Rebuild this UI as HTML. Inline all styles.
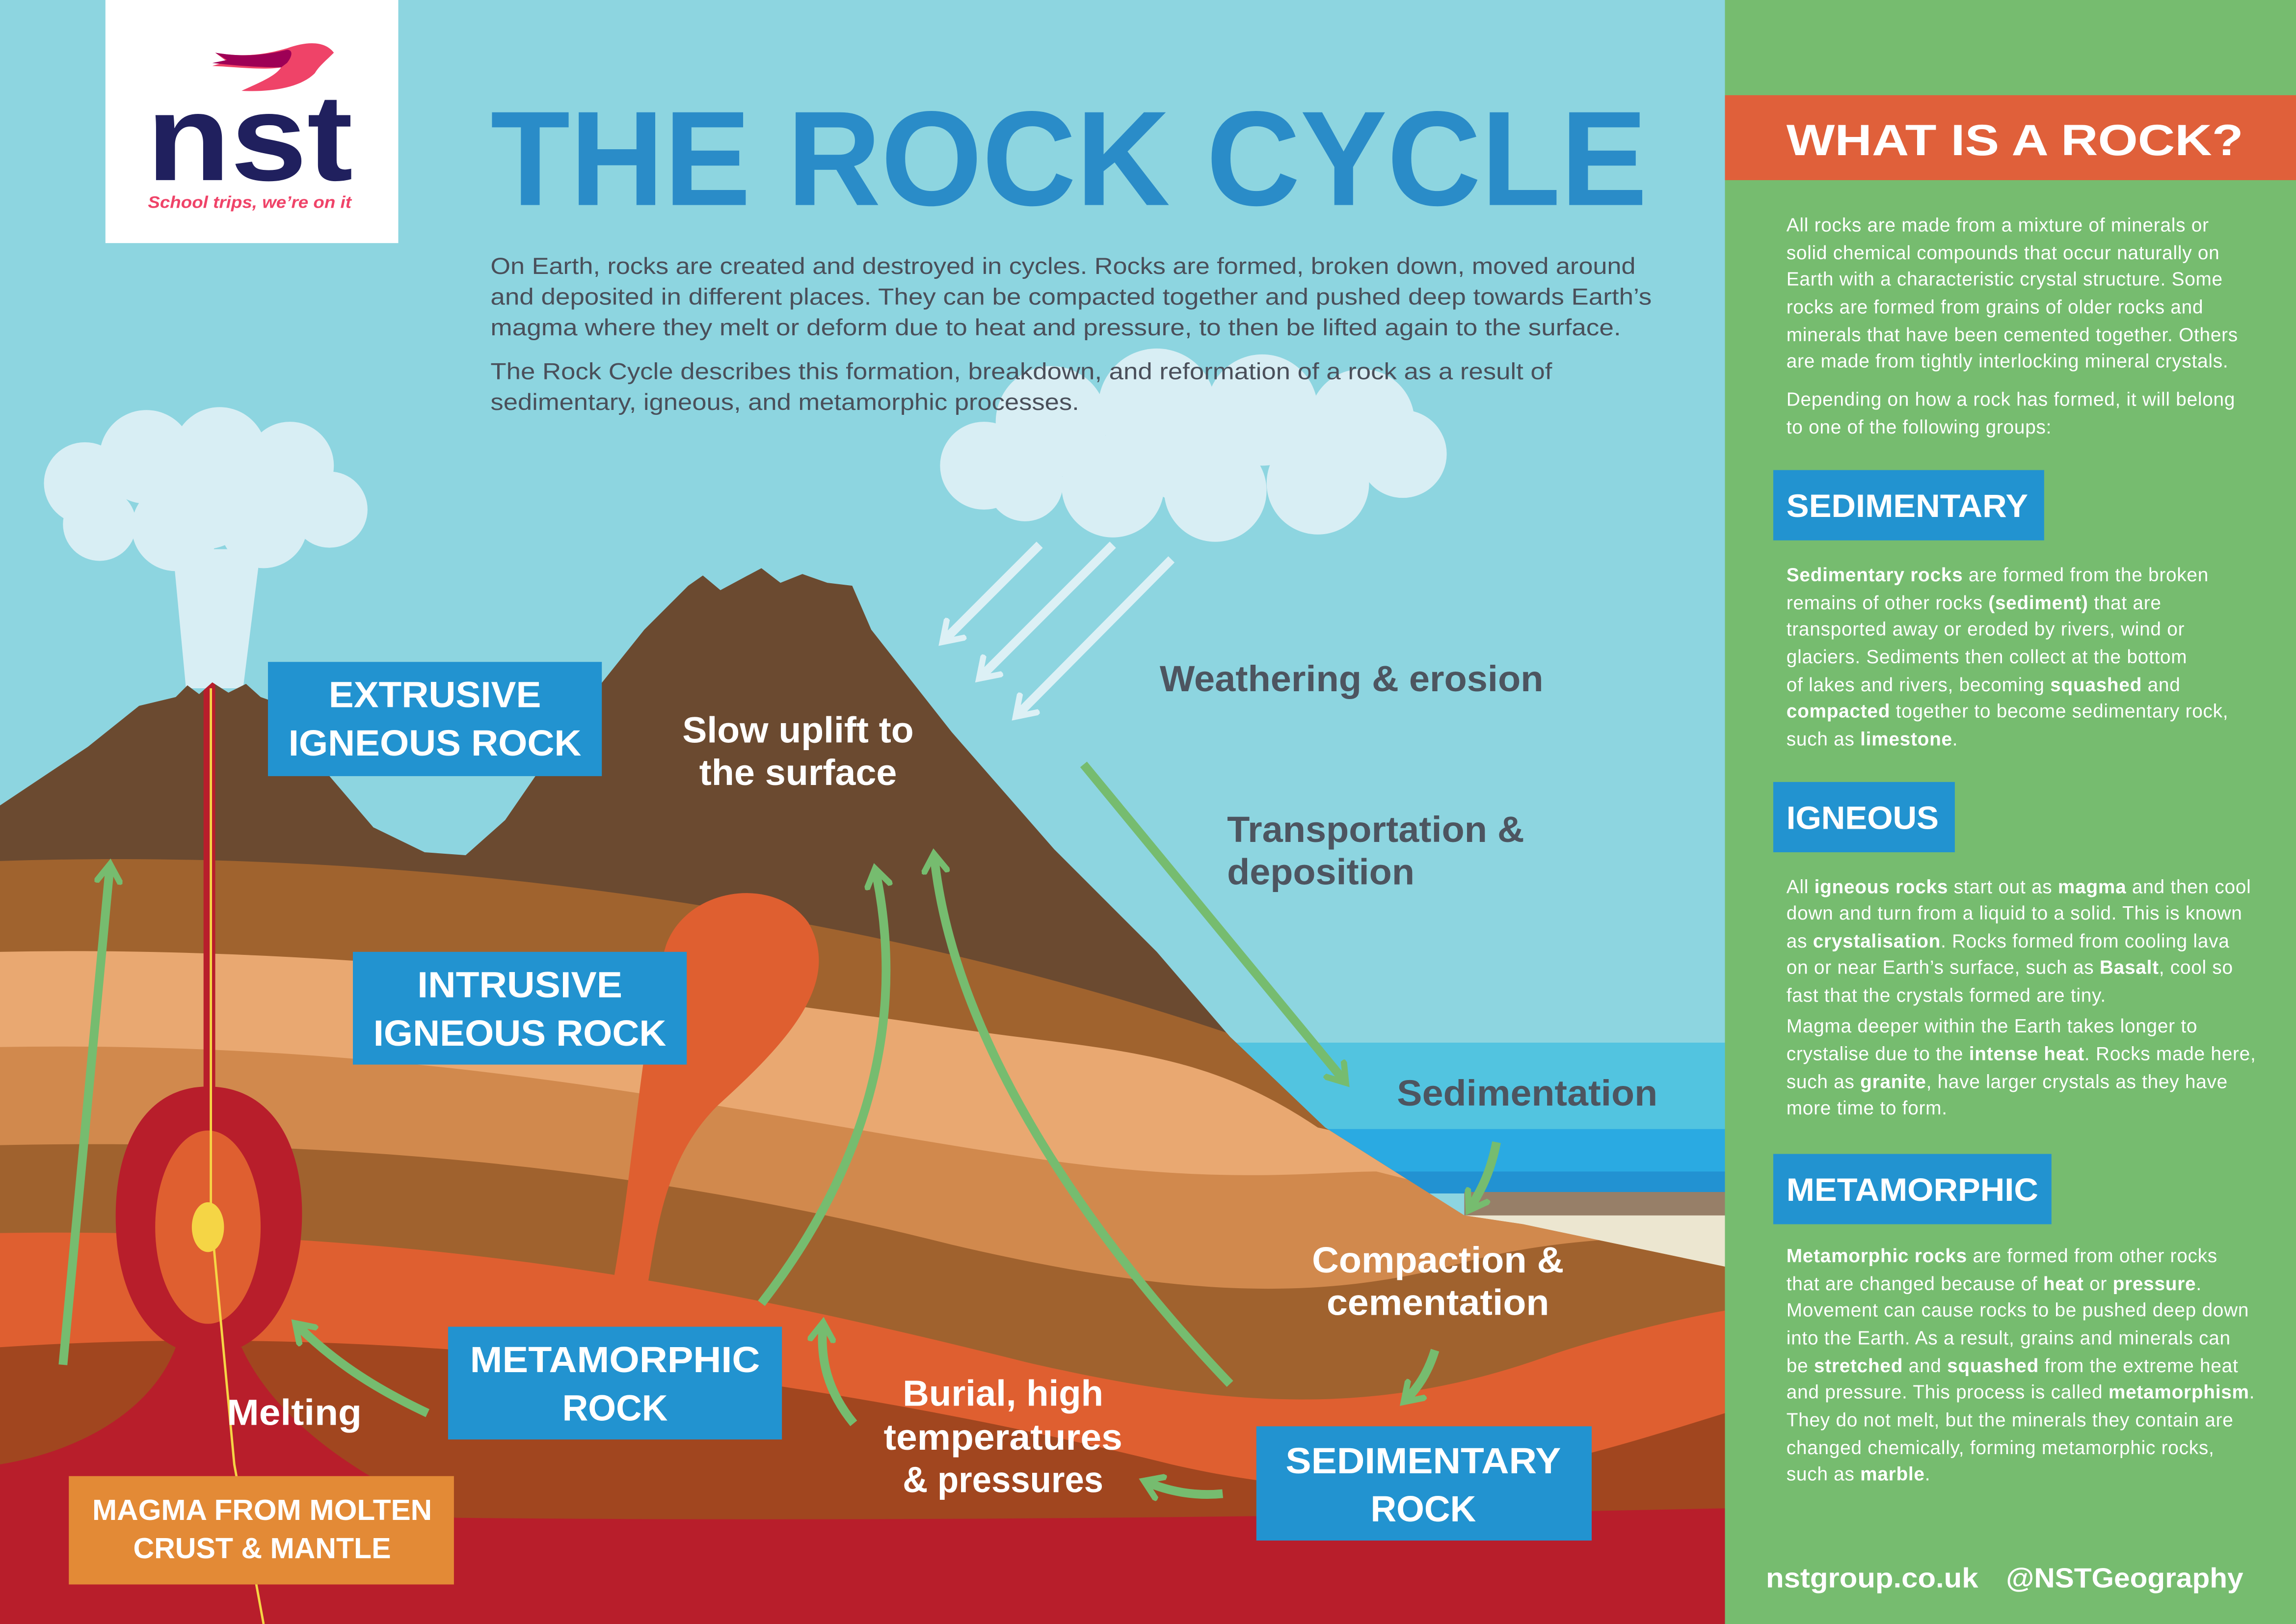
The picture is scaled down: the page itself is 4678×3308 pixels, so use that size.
<!DOCTYPE html>
<html><head><meta charset="utf-8">
<style>
html,body{margin:0;padding:0;width:4678px;height:3308px;overflow:hidden;background:#8dd5e0}
svg{display:block}
text{font-family:"Liberation Sans",sans-serif}
</style></head><body>
<svg width="4678" height="3308" viewBox="0 0 1568 1109" preserveAspectRatio="none" xmlns="http://www.w3.org/2000/svg">
<defs>
<clipPath id="ground">
<path d="M0,550 L60,510 L95,482 L120,476 L128,468 L136,474 L145,466 L156,473 L168,467 L178,476 L195,482 L225,530 L255,565 L290,582 L318,584 L345,560 L400,480 L440,430 L470,400 L480,393 L492,403 L505,396 L520,388 L533,398 L548,392 L565,398 L582,400 L595,430 L650,500 L720,580 L790,650 L840,708 L905,770 L1000,830 L1040,836 L1178,865 L1178,1109 L0,1109 Z"/>
</clipPath>
<marker id="ah" viewBox="0 0 10 10" refX="6" refY="5" markerWidth="3.2" markerHeight="3.2" orient="auto">
<path d="M1,1 L7,5 L1,9" fill="none" stroke="#76bc6f" stroke-width="2.2" stroke-linecap="square"/>
</marker>
<marker id="aw" viewBox="0 0 10 10" refX="6" refY="5" markerWidth="3.4" markerHeight="3.4" orient="auto">
<path d="M1,1 L7,5 L1,9" fill="none" stroke="#dcf0f5" stroke-width="2" stroke-linecap="square"/>
</marker>
</defs>
<rect x="0" y="0" width="1178" height="1109" fill="#8dd5e0"/>
<g fill="#d8eef4">
<path d="M118,375 L178,375 L166,470 L127,470 Z"/>
<circle cx="58" cy="330" r="28"/><circle cx="100" cy="312" r="32"/><circle cx="150" cy="310" r="32"/>
<circle cx="198" cy="318" r="30"/><circle cx="225" cy="348" r="26"/><circle cx="180" cy="358" r="30"/>
<circle cx="120" cy="360" r="30"/><circle cx="68" cy="358" r="25"/><circle cx="140" cy="340" r="35"/>
<circle cx="672" cy="318" r="30"/><circle cx="718" cy="288" r="38"/><circle cx="790" cy="278" r="40"/>
<circle cx="862" cy="280" r="38"/><circle cx="930" cy="288" r="36"/><circle cx="958" cy="310" r="30"/>
<circle cx="900" cy="330" r="35"/><circle cx="830" cy="335" r="35"/><circle cx="760" cy="332" r="35"/><circle cx="700" cy="330" r="26"/>
<circle cx="815" cy="305" r="40"/>
</g>
<g stroke="#dcf0f5" stroke-width="6" fill="none" marker-end="url(#aw)">
<path d="M710,372 L645,437"/><path d="M760,372 L670,462"/><path d="M800,382 L695,488"/>
</g>
<rect x="830" y="712" width="348" height="60" fill="#52c4e0"/>
<rect x="830" y="771" width="348" height="30" fill="#2aaae2"/>
<rect x="830" y="800" width="348" height="15" fill="#2292d2"/>
<rect x="1000" y="814" width="178" height="17" fill="#977f68"/>
<rect x="1000" y="830" width="178" height="40" fill="#ece6d0"/>
<g clip-path="url(#ground)">
<rect x="0" y="380" width="1178" height="729" fill="#6b4a30"/>
<path d="M0,588 C300,578 600,625 840,706 L1178,760 L1178,1109 L0,1109 Z" fill="#a0632e"/>
<path d="M0,650 C250,645 500,680 650,702 C760,718 820,716 900,770 L1178,830 L1178,1109 L0,1109 Z" fill="#e9a871"/>
<path d="M0,715 C300,710 500,760 700,790 C830,810 900,800 940,800 L1178,860 L1178,1109 L0,1109 Z" fill="#d1894d"/>
<path d="M0,782 C300,776 500,812 650,850 C800,885 900,890 1000,862 C1080,840 1178,845 1178,845 L1178,1109 L0,1109 Z" fill="#a0622e"/>
<path d="M0,842 C300,838 500,880 700,930 C850,965 950,965 1060,925 C1120,905 1178,895 1178,895 L1178,1109 L0,1109 Z" fill="#df5f30"/>
<path d="M0,920 C300,900 600,950 800,1000 C950,1035 1050,1005 1178,965 L1178,1109 L0,1109 Z" fill="#a1461f"/>
<path d="M0,1030 C300,1040 700,1040 1178,1030 L1178,1109 L0,1109 Z" fill="#b81e2b"/>
<path d="M416,890 C432,810 438,700 455,645 C470,605 530,598 552,630 C575,670 540,710 490,755 C450,795 448,850 440,890 Z" fill="#df5f30"/>
<path d="M0,1000 C60,990 105,960 120,920 L165,920 C185,965 240,1010 320,1040 L320,1109 L0,1109 Z" fill="#b81e2b"/>
<path d="M142,742 C190,742 212,790 205,850 C198,900 172,925 142,925 C112,925 86,900 80,850 C74,790 95,742 142,742 Z" fill="#b81e2b"/>
<ellipse cx="142" cy="838" rx="36" ry="66" fill="#df5f30"/>
<ellipse cx="142" cy="838" rx="11" ry="17" fill="#f5d545"/>
<rect x="139" y="466" width="8" height="290" fill="#b81e2b"/>
</g>
<path d="M144,470 L144,830 L160,1000 L180,1109" stroke="#f5d545" stroke-width="1.6" fill="none"/>
<g stroke="#76bc6f" stroke-width="6" fill="none" marker-end="url(#ah)" stroke-linecap="butt">
<path d="M43,932 L75,592"/>
<path d="M520,890 C590,800 620,700 598,595"/>
<path d="M840,945 C730,830 650,700 638,585"/>
<path d="M740,522 L918,738"/>
<path d="M1022,780 C1018,800 1012,812 1004,825"/>
<path d="M980,922 C975,938 968,948 960,956"/>
<path d="M835,1020 C815,1022 797,1018 783,1012"/>
<path d="M583,972 C565,950 560,928 562,905"/>
<path d="M292,965 C260,950 230,932 203,905"/>
</g>
<g font-weight="bold" fill="#fff" text-anchor="middle" font-size="25">
<rect x="183" y="452" width="228" height="78" fill="#2293d0"/>
<text x="297" y="483" textLength="145" lengthAdjust="spacingAndGlyphs">EXTRUSIVE</text>
<text x="297" y="516" textLength="200" lengthAdjust="spacingAndGlyphs">IGNEOUS ROCK</text>
<rect x="241" y="650" width="228" height="77" fill="#2293d0"/>
<text x="355" y="681" textLength="140" lengthAdjust="spacingAndGlyphs">INTRUSIVE</text>
<text x="355" y="714" textLength="200" lengthAdjust="spacingAndGlyphs">IGNEOUS ROCK</text>
<rect x="306" y="906" width="228" height="77" fill="#2293d0"/>
<text x="420" y="937" textLength="198" lengthAdjust="spacingAndGlyphs">METAMORPHIC</text>
<text x="420" y="970" textLength="72" lengthAdjust="spacingAndGlyphs">ROCK</text>
<rect x="858" y="974" width="229" height="78" fill="#2293d0"/>
<text x="972" y="1006" textLength="188" lengthAdjust="spacingAndGlyphs">SEDIMENTARY</text>
<text x="972" y="1039" textLength="72" lengthAdjust="spacingAndGlyphs">ROCK</text>
<rect x="47" y="1008" width="263" height="74" fill="#e38a36"/>
<text x="179" y="1038" font-size="20" textLength="232" lengthAdjust="spacingAndGlyphs">MAGMA FROM MOLTEN</text>
<text x="179" y="1064" font-size="20" textLength="176" lengthAdjust="spacingAndGlyphs">CRUST &amp; MANTLE</text>
</g>
<g font-size="25" font-weight="bold">
<g fill="#fff" text-anchor="middle">
<text x="545" y="507" textLength="158" lengthAdjust="spacingAndGlyphs">Slow uplift to</text>
<text x="545" y="536" textLength="135" lengthAdjust="spacingAndGlyphs">the surface</text>
<text x="982" y="869" textLength="172" lengthAdjust="spacingAndGlyphs">Compaction &amp;</text>
<text x="982" y="898" textLength="152" lengthAdjust="spacingAndGlyphs">cementation</text>
<text x="685" y="960" textLength="137" lengthAdjust="spacingAndGlyphs">Burial, high</text>
<text x="685" y="990" textLength="163" lengthAdjust="spacingAndGlyphs">temperatures</text>
<text x="685" y="1019" textLength="137" lengthAdjust="spacingAndGlyphs">&amp; pressures</text>
<text x="201" y="973" textLength="92" lengthAdjust="spacingAndGlyphs">Melting</text>
</g>
<g fill="#4d5560">
<text x="792" y="472" textLength="262" lengthAdjust="spacingAndGlyphs">Weathering &amp; erosion</text>
<text x="838" y="575" textLength="203" lengthAdjust="spacingAndGlyphs">Transportation &amp;</text>
<text x="838" y="604" textLength="128" lengthAdjust="spacingAndGlyphs">deposition</text>
<text x="954" y="755" textLength="178" lengthAdjust="spacingAndGlyphs">Sedimentation</text>
</g>
</g>
<text x="335" y="140" font-size="92" font-weight="bold" fill="#2a8cc8" textLength="790" lengthAdjust="spacingAndGlyphs">THE ROCK CYCLE</text>
<g font-size="16" fill="#4a4f5a">
<text x="335" y="187" textLength="782" lengthAdjust="spacingAndGlyphs">On Earth, rocks are created and destroyed in cycles. Rocks are formed, broken down, moved around</text>
<text x="335" y="208" textLength="793" lengthAdjust="spacingAndGlyphs">and deposited in different places. They can be compacted together and pushed deep towards Earth’s</text>
<text x="335" y="229" textLength="772" lengthAdjust="spacingAndGlyphs">magma where they melt or deform due to heat and pressure, to then be lifted again to the surface.</text>
<text x="335" y="259" textLength="725" lengthAdjust="spacingAndGlyphs">The Rock Cycle describes this formation, breakdown, and reformation of a rock as a result of</text>
<text x="335" y="280" textLength="402" lengthAdjust="spacingAndGlyphs">sedimentary, igneous, and metamorphic processes.</text>
</g>
<rect x="72" y="0" width="200" height="166" fill="#fff"/>
<path d="M147,36 C170,40 185,36 196,33 C210,28 222,28 228,36 C222,42 218,45 215,50 C205,60 185,63 165,62 C178,56 188,52 192,46 C180,48 165,46 145,45 L155,42 Z" fill="#ef4368"/>
<path d="M147,36 C165,39 180,38 196,34 C200,34 200,38 196,43 L192,46 C178,46 162,45 145,43 L155,41 Z" fill="#9e0056"/>
<text x="100" y="123" font-size="84" font-weight="bold" fill="#20205e" textLength="141" lengthAdjust="spacingAndGlyphs">nst</text>
<text x="101" y="142" font-size="11.5" font-weight="bold" font-style="italic" fill="#ef4368" textLength="139" lengthAdjust="spacingAndGlyphs">School trips, we’re on it</text>
<rect x="1178" y="0" width="390" height="1109" fill="#76bc6f"/>
<rect x="1178" y="65" width="390" height="58" fill="#e0603a"/>
<text x="1220" y="106" font-size="30" font-weight="bold" fill="#fff" textLength="312" lengthAdjust="spacingAndGlyphs">WHAT IS A ROCK?</text>
<g font-size="13" fill="#fff" letter-spacing="0.25">
<text x="1220" y="158">All rocks are made from a mixture of minerals or</text>
<text x="1220" y="177">solid chemical compounds that occur naturally on</text>
<text x="1220" y="195">Earth with a characteristic crystal structure. Some</text>
<text x="1220" y="214">rocks are formed from grains of older rocks and</text>
<text x="1220" y="233">minerals that have been cemented together. Others</text>
<text x="1220" y="251">are made from tightly interlocking mineral crystals.</text>
<text x="1220" y="277">Depending on how a rock has formed, it will belong</text>
<text x="1220" y="296">to one of the following groups:</text>
<text x="1220" y="397"><tspan font-weight="bold">Sedimentary rocks</tspan> are formed from the broken</text>
<text x="1220" y="416">remains of other rocks <tspan font-weight="bold">(sediment)</tspan> that are</text>
<text x="1220" y="434">transported away or eroded by rivers, wind or</text>
<text x="1220" y="453">glaciers. Sediments then collect at the bottom</text>
<text x="1220" y="472">of lakes and rivers, becoming <tspan font-weight="bold">squashed</tspan> and</text>
<text x="1220" y="490"><tspan font-weight="bold">compacted</tspan> together to become sedimentary rock,</text>
<text x="1220" y="509">such as <tspan font-weight="bold">limestone</tspan>.</text>
<text x="1220" y="610">All <tspan font-weight="bold">igneous rocks</tspan> start out as <tspan font-weight="bold">magma</tspan> and then cool</text>
<text x="1220" y="628">down and turn from a liquid to a solid. This is known</text>
<text x="1220" y="647">as <tspan font-weight="bold">crystalisation</tspan>. Rocks formed from cooling lava</text>
<text x="1220" y="665">on or near Earth’s surface, such as <tspan font-weight="bold">Basalt</tspan>, cool so</text>
<text x="1220" y="684">fast that the crystals formed are tiny.</text>
<text x="1220" y="705">Magma deeper within the Earth takes longer to</text>
<text x="1220" y="724">crystalise due to the <tspan font-weight="bold">intense heat</tspan>. Rocks made here,</text>
<text x="1220" y="743">such as <tspan font-weight="bold">granite</tspan>, have larger crystals as they have</text>
<text x="1220" y="761">more time to form.</text>
<text x="1220" y="862"><tspan font-weight="bold">Metamorphic rocks</tspan> are formed from other rocks</text>
<text x="1220" y="881">that are changed because of <tspan font-weight="bold">heat</tspan> or <tspan font-weight="bold">pressure</tspan>.</text>
<text x="1220" y="899">Movement can cause rocks to be pushed deep down</text>
<text x="1220" y="918">into the Earth. As a result, grains and minerals can</text>
<text x="1220" y="937">be <tspan font-weight="bold">stretched</tspan> and <tspan font-weight="bold">squashed</tspan> from the extreme heat</text>
<text x="1220" y="955">and pressure. This process is called <tspan font-weight="bold">metamorphism</tspan>.</text>
<text x="1220" y="974">They do not melt, but the minerals they contain are</text>
<text x="1220" y="993">changed chemically, forming metamorphic rocks,</text>
<text x="1220" y="1011">such as <tspan font-weight="bold">marble</tspan>.</text>
</g>
<g font-weight="bold" fill="#fff" font-size="22">
<rect x="1211" y="321" width="185" height="48" fill="#2293d0"/>
<text x="1220" y="353" textLength="165" lengthAdjust="spacingAndGlyphs">SEDIMENTARY</text>
<rect x="1211" y="534" width="124" height="48" fill="#2293d0"/>
<text x="1220" y="566" textLength="104" lengthAdjust="spacingAndGlyphs">IGNEOUS</text>
<rect x="1211" y="788" width="190" height="48" fill="#2293d0"/>
<text x="1220" y="820" textLength="172" lengthAdjust="spacingAndGlyphs">METAMORPHIC</text>
<text x="1206" y="1084" font-size="19" textLength="145" lengthAdjust="spacingAndGlyphs">nstgroup.co.uk</text>
<text x="1370" y="1084" font-size="19" textLength="162" lengthAdjust="spacingAndGlyphs">@NSTGeography</text>
</g>
</svg>
</body></html>
